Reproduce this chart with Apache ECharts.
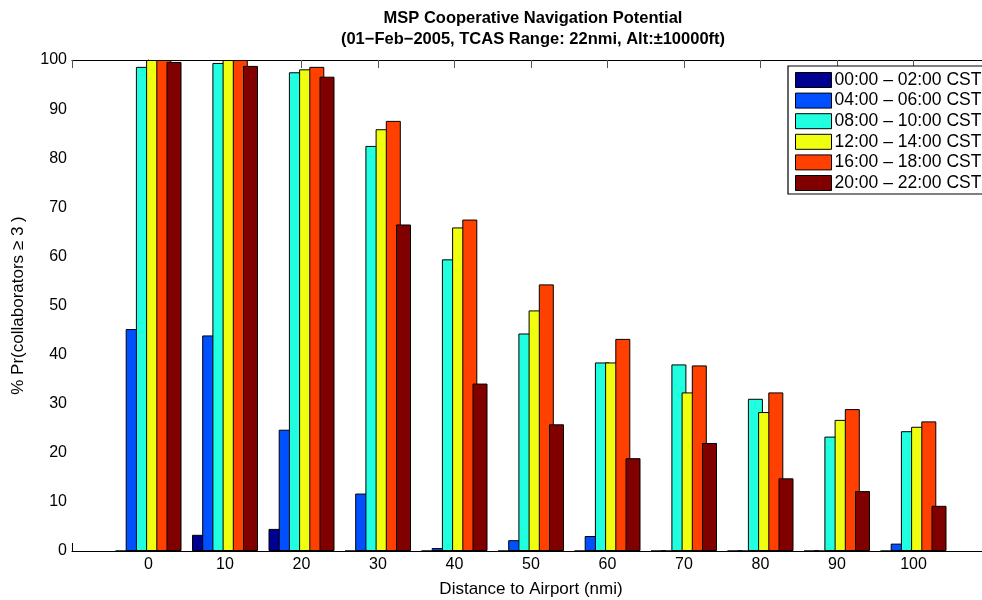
<!DOCTYPE html>
<html>
<head>
<meta charset="utf-8">
<script src="https://cdn.jsdelivr.net/npm/echarts@6/dist/echarts.min.js"></script>
<style>
  html, body { margin: 0; padding: 0; background: #fff; }
  #chart { width: 982px; height: 600px; }
</style>
</head>
<body>
<div id="chart"></div>
<script>
// Distance bins (nmi) and share of time with >= 3 collaborators, per time window
const distances = [0, 10, 20, 30, 40, 50, 60, 70, 80, 90, 100];
const windowNames = [
  '00:00 – 02:00 CST',
  '04:00 – 06:00 CST',
  '08:00 – 10:00 CST',
  '12:00 – 14:00 CST',
  '16:00 – 18:00 CST',
  '20:00 – 22:00 CST'
];
const win0002 = [0, 3.3, 4.5, 0, 0, 0, 0, 0, 0, 0, 0];
const win0406 = [45.2, 43.9, 24.7, 11.7, 0.6, 2.2, 3.05, 0, 0, 0, 1.5];
const win0810 = [98.6, 99.4, 97.5, 82.5, 59.4, 44.3, 38.4, 38.0, 31.0, 23.3, 24.4];
const win1214 = [100, 100, 98.1, 85.9, 65.9, 49.0, 38.4, 32.3, 28.3, 26.7, 25.3];
const win1618 = [100, 100, 98.6, 87.6, 67.5, 54.3, 43.2, 37.8, 32.3, 28.9, 26.4];
const win2022 = [99.6, 98.8, 96.6, 66.5, 34.1, 25.8, 18.9, 22.0, 14.8, 12.2, 9.2];
const yTicks = [0, 10, 20, 30, 40, 50, 60, 70, 80, 90, 100];

const windowValues = [win0002, win0406, win0810, win1214, win1618, win2022];
const colors = ['#000090', '#0050FF', '#20FFE0', '#F0FF10', '#FF4000', '#800000'];

const FONT = '"Liberation Sans", Arial, Helvetica, sans-serif';

const chart = echarts.init(document.getElementById('chart'), null, { renderer: 'canvas' });

const series = windowValues.map((vals, i) => ({
  name: windowNames[i],
  type: 'bar',
  xAxisIndex: 0,
  yAxisIndex: 0,
  barWidth: 15,
  barGap: '-32%',
  data: vals.map((v, j) => [distances[j], v]),
  itemStyle: { color: colors[i], borderColor: '#000', borderWidth: 1 },
  emphasis: { disabled: true },
  animation: false
}));

const axisLineStyle = { color: '#000', width: 1.2 };

chart.setOption({
  animation: false,
  backgroundColor: '#fff',
  title: {
    text: 'MSP Cooperative Navigation Potential\n(01−Feb−2005, TCAS Range: 22nmi, Alt:±10000ft)',
    left: 528,
    top: 3,
    textAlign: 'center',
    textStyle: { fontFamily: FONT, fontSize: 16.5, fontWeight: 'bold', color: '#000', lineHeight: 21 }
  },
  grid: { left: 72, top: 60, width: 918, height: 491, containLabel: false, outerBoundsMode: 'none' },
  // legend frame runs past the right edge of the page
  graphic: [{
    type: 'rect',
    z: 3,
    silent: true,
    shape: { x: 788, y: 66, width: 230, height: 128 },
    style: { fill: '#fff', stroke: '#000', lineWidth: 1.2 }
  }],
  legend: {
    orient: 'vertical',
    left: 788,
    top: 66,
    z: 4,
    itemWidth: 36,
    itemHeight: 15,
    itemGap: 2.6,
    padding: [5, 0, 5, 7],
    borderWidth: 0,
    icon: 'rect',
    itemStyle: { borderColor: '#000', borderWidth: 1 },
    textStyle: { fontFamily: FONT, fontSize: 17.5, color: '#000', padding: [0, 0, 0, -2] },
    data: windowNames
  },
  xAxis: [
    {
      type: 'value',
      position: 'bottom',
      min: -10,
      max: 110,
      interval: 10,
      name: 'Distance to Airport (nmi)',
      nameLocation: 'middle',
      nameGap: 30,
      nameTextStyle: { fontFamily: FONT, fontSize: 17, color: '#000' },
      axisLine: { show: true, lineStyle: axisLineStyle },
      axisTick: { show: true, inside: true, length: 8, lineStyle: { color: '#000' } },
      axisLabel: {
        fontFamily: FONT, fontSize: 16, color: '#000', margin: 6,
        formatter: v => (v >= 0 && v <= 100 ? String(v) : '')
      },
      splitLine: { show: false }
    },
    {
      type: 'value',
      position: 'top',
      min: -10,
      max: 110,
      interval: 10,
      axisLine: { show: true, lineStyle: axisLineStyle },
      axisTick: { show: true, inside: true, length: 8, lineStyle: { color: '#555' } },
      axisLabel: { show: false },
      splitLine: { show: false }
    }
  ],
  yAxis: {
    type: 'value',
    min: yTicks[0],
    max: yTicks[yTicks.length - 1],
    interval: 10,
    name: '% Pr(collaborators ≥ 3 )',
    nameLocation: 'middle',
    nameGap: 45,
    nameRotate: 90,
    nameTextStyle: { fontFamily: FONT, fontSize: 17, color: '#000' },
    axisLine: { show: true, lineStyle: axisLineStyle },
    axisTick: { show: true, inside: true, length: 8, lineStyle: { color: '#000' } },
    axisLabel: { fontFamily: FONT, fontSize: 16, color: '#000', margin: 5 },
    splitLine: { show: false }
  },
  series: series
});
</script>
</body>
</html>
